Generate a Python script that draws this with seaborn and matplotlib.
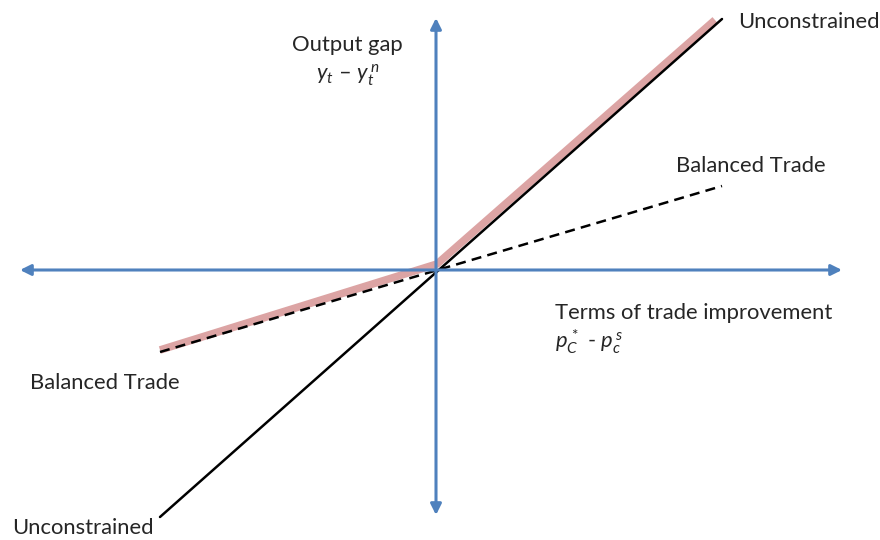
import pandas as pd
import seaborn as sns
import matplotlib.pyplot as plt

# line end points, in chart units (origin where the axes cross)
unconstrained_x = [-2.76, 2.86]
unconstrained_y = [-2.47, 2.51]
balanced_x = [-2.76, 2.86]
balanced_y = [-0.82, 0.84]
constrained_x = [-2.76, 0.01, 2.79]
constrained_y = [-0.80, 0.06, 2.50]

sns.set_style("white")
plt.rcParams['font.family'] = ['Lato', 'DejaVu Sans']
plt.rcParams['mathtext.fontset'] = 'custom'
plt.rcParams['mathtext.rm'] = 'Lato'
plt.rcParams['mathtext.it'] = 'Lato:italic'

fig = plt.figure(figsize=(8.8, 5.4), dpi=100)
ax = fig.add_axes([0, 0, 1, 1])
ax.set_xlim(-4.36, 4.44)
ax.set_ylim(-2.70, 2.70)
ax.axis("off")

axis_blue = "#4f81bd"
ax.annotate("", xy=(-4.16, 0), xytext=(4.06, 0),
            arrowprops=dict(arrowstyle="<|-|>", color=axis_blue, lw=2.2,
                            mutation_scale=16, shrinkA=0, shrinkB=0))
ax.annotate("", xy=(0, 2.52), xytext=(0, -2.45),
            arrowprops=dict(arrowstyle="<|-|>", color=axis_blue, lw=2.2,
                            mutation_scale=16, shrinkA=0, shrinkB=0))

pink = pd.DataFrame({"x": constrained_x, "y": constrained_y})
sns.lineplot(data=pink, x="x", y="y", ax=ax, color="#dca4a4", lw=5.5,
             sort=False, solid_capstyle="butt")
unc = pd.DataFrame({"x": unconstrained_x, "y": unconstrained_y})
sns.lineplot(data=unc, x="x", y="y", ax=ax, color="black", lw=1.8)
bal = pd.DataFrame({"x": balanced_x, "y": balanced_y})
sns.lineplot(data=bal, x="x", y="y", ax=ax, color="black", lw=1.8,
             linestyle=(0, (4, 2.5)))

fs = 15.8
ax.text(-1.44, 2.25, "Output gap", fontsize=fs, va="center")
ax.text(-1.20, 1.95, r"$y_t$ – $y_t^{\,n}$", fontsize=fs, va="center")
ax.text(3.02, 2.48, "Unconstrained", fontsize=fs, va="center")
ax.text(2.40, 1.04, "Balanced Trade", fontsize=fs, va="center")
ax.text(1.19, -0.43, "Terms of trade improvement", fontsize=fs, va="center")
ax.text(1.19, -0.72, r"$p_C^{\,*}$ - $p_c^{\,s}$", fontsize=fs, va="center")
ax.text(-4.06, -1.13, "Balanced Trade", fontsize=fs, va="center")
ax.text(-4.24, -2.58, "Unconstrained", fontsize=fs, va="center")

ax.set_xlabel("")
ax.set_ylabel("")
plt.savefig("out.png", dpi=100)
